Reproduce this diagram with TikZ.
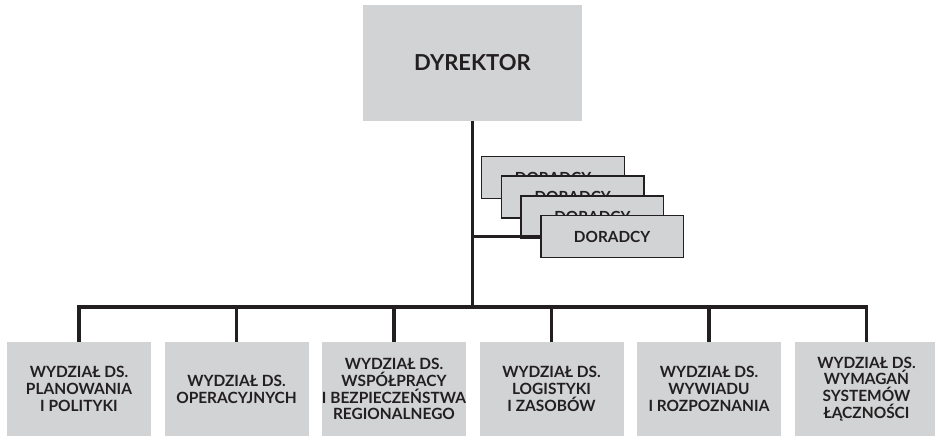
\documentclass[tikz,border=0pt]{standalone}
\usepackage{fontspec}
\setmainfont{Lato}
\definecolor{boxgray}{HTML}{D1D3D4}
\definecolor{ink}{HTML}{231F20}
\begin{document}
\begin{tikzpicture}[x=0.75pt, y=-0.75pt,
		unit/.style={fill=boxgray, text=ink, align=center, inner sep=0pt,
			font=\bfseries\fontsize{11.6}{12.6}\selectfont},
		chief/.style={unit, minimum width=164.25pt, minimum height=87pt,
			font=\bfseries\fontsize{16.5}{20}\selectfont},
		adviser/.style={unit, draw=ink, line width=1.1pt, minimum width=107pt, minimum height=31.5pt,
			font=\bfseries\fontsize{11.5}{12.6}\selectfont},
		dept/.style={unit, minimum width=108pt, minimum height=70.5pt},
		link/.style={draw=ink, line width=2.5pt}]

					\useasboundingbox (0,0) rectangle (935,437);

					% director
					\node [chief] (dir) at (472.5,63) {DYREKTOR};

					% advisers
					\foreach \i in {0,...,3}
						\node [adviser] (adv\i) at (553+19.7*\i,177.5+19.7*\i) {DORADCY};

					% departments
					\foreach \i/\txt in {1/{WYDZIAŁ DS.\\PLANOWANIA\\I POLITYKI},
						2/{WYDZIAŁ DS.\\OPERACYJNYCH},
						3/{WYDZIAŁ DS.\\WSPÓŁPRACY\\I BEZPIECZEŃSTWA\\REGIONALNEGO},
						4/{WYDZIAŁ DS.\\LOGISTYKI\\I ZASOBÓW},
						5/{WYDZIAŁ DS.\\WYWIADU\\I ROZPOZNANIA},
						6/{WYDZIAŁ DS.\\WYMAGAŃ\\SYSTEMÓW\\ŁĄCZNOŚCI}}
						\node [dept] (dep\i) at (79+157.5*\i-157.5,389) {\txt};

					% connectors
					\coordinate (bus) at (472.5,307);
					\draw [link] (dir.south) -- (bus);
					\draw [link] (adv3.west) -- (adv3.west -| dir.south);
					\draw [link, line cap=rect] (dep1 |- bus) -- (dep6 |- bus);
					\foreach \i in {1,...,6}
						\draw [link] (dep\i.north) -- (dep\i |- bus);

				\end{tikzpicture}
\end{document}
